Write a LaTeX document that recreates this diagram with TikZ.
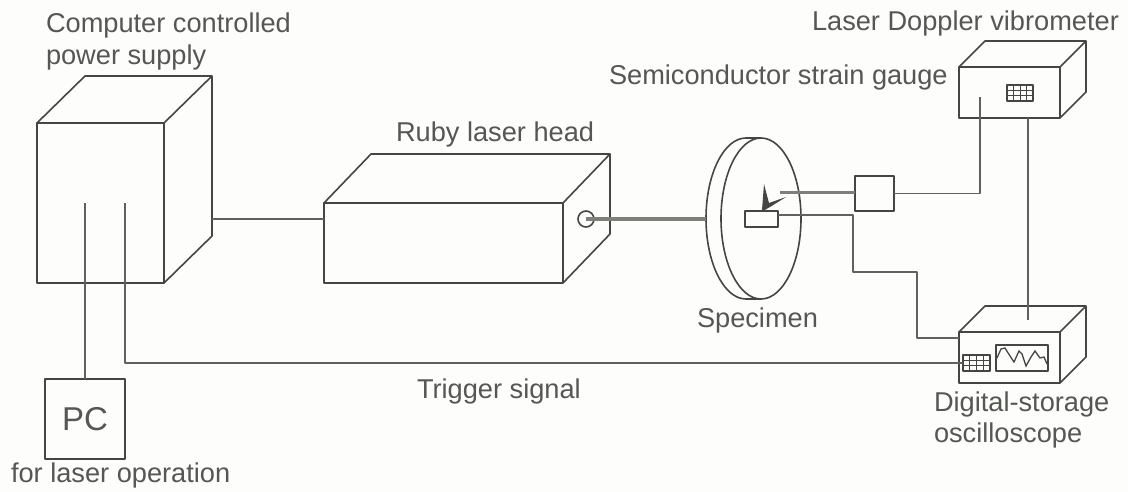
\documentclass[tikz,border=0pt]{standalone}
\usepackage{fontspec}
\setmainfont{Liberation Sans}
\definecolor{ink}{HTML}{454543}
\definecolor{txt}{HTML}{555753}
\definecolor{beamc}{HTML}{7E7E7A}
\definecolor{paper}{HTML}{FDFDFB}
\tikzset{
  ln/.style={draw=ink,line width=1.6pt,line join=round},
  thin ln/.style={draw=ink!85,line width=1.2pt,line join=round},
  front/.style={ln,rectangle,inner sep=0pt,outer sep=0pt,anchor=north west},
  label/.style={text=txt,font=\fontsize{27.2}{27.2}\selectfont,anchor=base west,inner sep=0pt,outer sep=0pt},
  beam/.style={draw=beamc,line width=3pt},
  gridc/.style={draw=ink,line width=0.9pt}
}
% name, x, y, w, h, dx, dy
\newcommand{\solidbox}[7]{%
  \node[front,minimum width=#4pt,minimum height=#5pt] (#1) at (#2,#3) {};
  \draw[ln] (#1.north west) -- ++(#6,-#7) coordinate (#1-bl) -- ++(#4,0) coordinate (#1-br) -- (#1.north east);
  \draw[ln] (#1-br) -- ++(0,#5) coordinate (#1-brb) -- (#1.south east);
}
\newcommand{\gridbox}[5]{%
  \node[front,line width=1.2pt,minimum width=#4pt,minimum height=#5pt] (#1) at (#2,#3) {};
  \foreach \f in {0.25,0.5,0.75}{\draw[gridc] ($(#1.north west)!\f!(#1.north east)$) -- ($(#1.south west)!\f!(#1.south east)$);}
  \foreach \f in {0.33,0.67}{\draw[gridc] ($(#1.north west)!\f!(#1.south west)$) -- ($(#1.north east)!\f!(#1.south east)$);}
}
\usetikzlibrary{calc}
\begin{document}
\begin{tikzpicture}[x=1pt,y=-1pt]
\useasboundingbox[fill=paper] (0,0) rectangle (1128,492);

% units
\solidbox{supply}{37}{123}{127}{160}{48}{47}
\solidbox{laser}{324}{203}{239}{80}{47}{49}
\solidbox{vib}{959}{67}{101}{51}{26}{26}
\solidbox{scope}{959}{332}{101}{51}{26}{26}
\node[front,minimum width=80pt,minimum height=80pt,text=txt,font=\fontsize{33}{33}\selectfont] (pc) at (45,379) {PC};
\node[front,minimum width=39pt,minimum height=35pt] (amp) at (855,176) {};

% laser aperture
\node[ln,circle,minimum size=16pt,inner sep=0pt,outer sep=0pt] (aperture) at (586,219) {};

% specimen disc
\coordinate (disctop) at (761,138);
\coordinate (discbot) at (761,299);
\coordinate (backtop) at (746,138);
\coordinate (backbot) at (746,299);
\coordinate (discleft) at (706,219);
\draw[ln] (761,218.5) ellipse [x radius=40,y radius=80.5];
\draw[ln] (backbot) arc[start angle=-90,end angle=-270,x radius=40,y radius=-80.5];
\draw[ln] (backtop) -- (disctop) (backbot) -- (discbot);
\node[front,minimum width=33pt,minimum height=16pt] (gauge) at (745,211) {};

% reflected-beam marker
\fill[ink] (764,184) -- (769,203) -- (786,197) -- (770,207) -- (763,211) -- (762,210) -- cycle;

% instrument panels
\gridbox{vibgrid}{1007}{85}{26}{16}
\gridbox{scopegrid}{963}{355}{27}{16}
\node[front,minimum width=52pt,minimum height=26pt] (screen) at (996,345) {};
\draw[ink,line width=1.3pt] (997,358) -- (1001,349) -- (1005,348) -- (1010,356) -- (1014,362) -- (1019,351) -- (1022,354) -- (1026,366) -- (1031,357) -- (1035,351) -- (1040,358) -- (1044,357) -- (1047,364);

% connectors
\coordinate (supplyport) at (212,219);
\coordinate (laserport) at (324,219);
\draw[thin ln] (supplyport) -- (laserport);
\coordinate (pcstart) at (85,203);
\draw[thin ln] (pcstart) -- (pc.north -| pcstart);
\coordinate (trigstart) at (125,203);
\coordinate (scopeport) at (963,363);
\draw[thin ln] (trigstart) |- (scopeport);
\draw[beam] (aperture.center) -- (discleft);
\coordinate (markerend) at (780,193);
\draw[beam] (markerend) -- (markerend -| amp.west);
\coordinate (gaugeport) at (778,215);
\coordinate (scopein) at (959,338);
\draw[thin ln] (gaugeport) -- (853,215) -- (853,272) -- (917,272) -- (917,338) -- (scopein);
\coordinate (vibin) at (980,97);
\draw[thin ln] (amp.east) -| (vibin);
\coordinate (vibout) at (1028,118);
\coordinate (scopetop) at (1028,320);
\draw[thin ln] (vibout) -- (scopetop);

% labels
\node[label] (t1) at (46,33) {Computer controlled};
\node[label] (t2) at (46,65) {power supply};
\node[label] (t3) at (396,142) {Ruby laser head};
\node[label] (t4) at (609,85) {Semiconductor strain gauge};
\node[label] (t5) at (812,31) {Laser Doppler vibrometer};
\node[label] (t6) at (697,327) {Specimen};
\node[label] (t7) at (417,398) {Trigger signal};
\node[label] (t8) at (934,411) {Digital-storage};
\node[label] (t9) at (934,442) {oscilloscope};
\node[label] (t10) at (11,482) {for laser operation};
\end{tikzpicture}
\end{document}
